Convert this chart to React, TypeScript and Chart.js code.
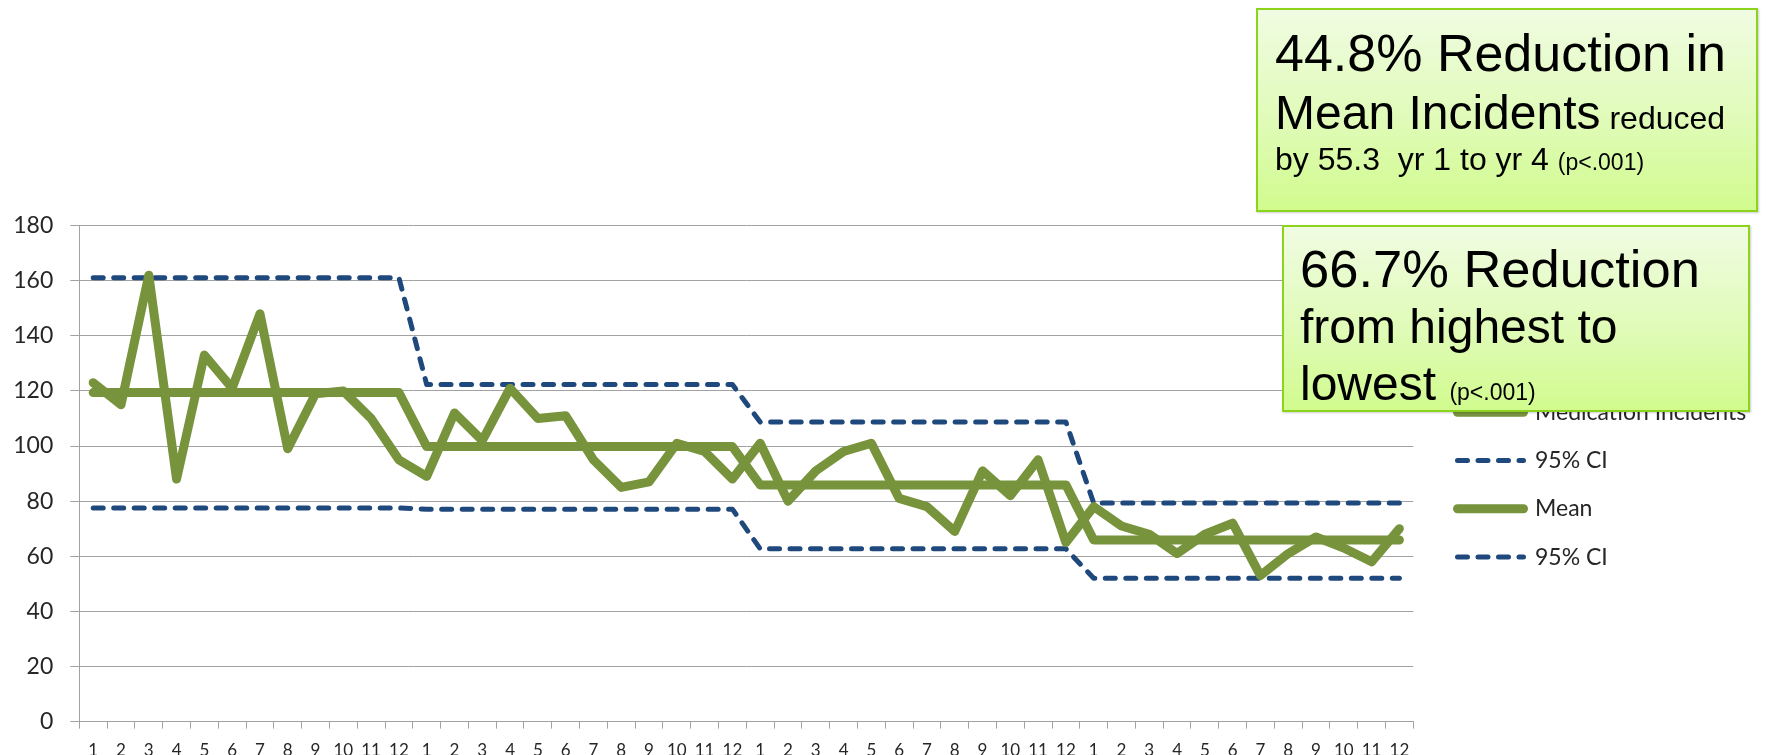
import React, { useEffect, useRef } from 'react';
import { Chart, registerables } from 'chart.js';

Chart.register(...registerables);

const monthLabels = [
  '1', '2', '3', '4', '5', '6', '7', '8', '9', '10', '11', '12',
  '1', '2', '3', '4', '5', '6', '7', '8', '9', '10', '11', '12',
  '1', '2', '3', '4', '5', '6', '7', '8', '9', '10', '11', '12',
  '1', '2', '3', '4', '5', '6', '7', '8', '9', '10', '11', '12',
];

const medicationIncidents = [
  123, 115, 162, 88, 133, 121, 148, 99, 119, 120, 110, 95,
  89, 112, 102, 121, 110, 111, 95, 85, 87, 101, 98, 88,
  101, 80, 91, 98, 101, 81, 78, 69, 91, 82, 95, 65,
  78, 71, 68, 61, 68, 72, 53, 61, 67, 63, 58, 70,
];

const upperCI = [
  161.1, 161.1, 161.1, 161.1, 161.1, 161.1, 161.1, 161.1, 161.1, 161.1, 161.1, 161.1,
  122.3, 122.3, 122.3, 122.3, 122.3, 122.3, 122.3, 122.3, 122.3, 122.3, 122.3, 122.3,
  108.7, 108.7, 108.7, 108.7, 108.7, 108.7, 108.7, 108.7, 108.7, 108.7, 108.7, 108.7,
  79.3, 79.3, 79.3, 79.3, 79.3, 79.3, 79.3, 79.3, 79.3, 79.3, 79.3, 79.3,
];

const meanLine = [
  119.4, 119.4, 119.4, 119.4, 119.4, 119.4, 119.4, 119.4, 119.4, 119.4, 119.4, 119.4,
  99.8, 99.8, 99.8, 99.8, 99.8, 99.8, 99.8, 99.8, 99.8, 99.8, 99.8, 99.8,
  85.9, 85.9, 85.9, 85.9, 85.9, 85.9, 85.9, 85.9, 85.9, 85.9, 85.9, 85.9,
  65.9, 65.9, 65.9, 65.9, 65.9, 65.9, 65.9, 65.9, 65.9, 65.9, 65.9, 65.9,
];

const lowerCI = [
  77.5, 77.5, 77.5, 77.5, 77.5, 77.5, 77.5, 77.5, 77.5, 77.5, 77.5, 77.5,
  77.1, 77.1, 77.1, 77.1, 77.1, 77.1, 77.1, 77.1, 77.1, 77.1, 77.1, 77.1,
  62.7, 62.7, 62.7, 62.7, 62.7, 62.7, 62.7, 62.7, 62.7, 62.7, 62.7, 62.7,
  52.0, 52.0, 52.0, 52.0, 52.0, 52.0, 52.0, 52.0, 52.0, 52.0, 52.0, 52.0,
];

const seriesNames = ['Medication Incidents', '95% CI', 'Mean', '95% CI'];

const yMin = 0;
const yMax = 180;
const yStep = 20;

const GREEN = '#77933C';
const BLUE = '#1F497D';
const GRID = '#A2A2A2';
const TEXT = '#262626';
const CHART_FONT = 'Lato, "Open Sans", sans-serif';
const BOX_FONT = '"Liberation Sans", Arial, sans-serif';

const W = 1774;
const H = 755;

const PLOT_LEFT = 79.3;
const PLOT_RIGHT = 1413.3;
const PLOT_TOP = 225.6;
const PLOT_BOTTOM = 721.6;
const LEGEND_PAD = 25.3;
const LEGEND_FONT = 23;
const LEGEND_LINE_X = 1457.5;
const LEGEND_FIRST_Y = 412.2;

const GREEN_WIDTH = 9;
const BLUE_WIDTH = 5;
const BLUE_DASH = [10, 10.5];

function TextLine(props: { left: number; baseline: number; size: number; children: React.ReactNode }) {
  const top = props.baseline - 0.3465 * props.size;
  return (
    <div
      style={{
        position: 'absolute',
        left: props.left,
        top,
        fontFamily: BOX_FONT,
        fontSize: props.size,
        lineHeight: 0,
        whiteSpace: 'pre',
        color: '#000',
      }}
    >
      {props.children}
    </div>
  );
}

const boxStyle = (left: number, top: number, width: number, height: number): React.CSSProperties => ({
  position: 'absolute',
  left,
  top,
  width,
  height,
  boxSizing: 'border-box',
  border: '2px solid #8CD31E',
  background: 'linear-gradient(180deg, #F0FCE2 0%, #E0FBB8 55%, #D1FB8E 100%)',
  boxShadow: '1px 1px 2px rgba(0,0,0,0.2)',
});

export default function App() {
  const canvasRef = useRef<HTMLCanvasElement>(null);

  useEffect(() => {
    const canvas = canvasRef.current;
    if (!canvas) return;

    const legendPlacer = {
      id: 'legendPlacer',
      beforeLayout(chart: any) {
        const lg = chart.legend;
        if (lg && !lg.__patched) {
          const orig = lg.fit.bind(lg);
          lg.fit = function () {
            orig();
            this.width = W - PLOT_RIGHT;
          };
          lg.__patched = true;
        }
      },
      afterLayout(chart: any) {
        const lg = chart.legend;
        if (!lg) return;
        const w = lg.width;
        lg.left = LEGEND_LINE_X - LEGEND_PAD;
        lg.right = lg.left + w;
        lg.top = LEGEND_FIRST_Y - LEGEND_PAD - LEGEND_FONT / 2;
        lg.bottom = H;
        lg.height = lg.bottom - lg.top;
      },
    };

    const lineDataset = (label: string, data: number[], color: string, width: number, dash: number[]) => ({
      label,
      data,
      borderColor: color,
      backgroundColor: color,
      borderWidth: width,
      borderDash: dash,
      pointRadius: 0,
      pointHoverRadius: 0,
      tension: 0,
      borderCapStyle: 'round',
      borderJoinStyle: 'round',
      fill: false,
    });

    const chart = new Chart(canvas, {
      type: 'line',
      data: {
        labels: monthLabels,
        datasets: [
          lineDataset(seriesNames[0], medicationIncidents, GREEN, GREEN_WIDTH, []),
          lineDataset(seriesNames[1], upperCI, BLUE, BLUE_WIDTH, BLUE_DASH),
          lineDataset(seriesNames[2], meanLine, GREEN, GREEN_WIDTH, []),
          lineDataset(seriesNames[3], lowerCI, BLUE, BLUE_WIDTH, BLUE_DASH),
        ],
      },
      options: {
        responsive: false,
        maintainAspectRatio: false,
        animation: false,
        devicePixelRatio: 1,
        layout: { padding: { top: PLOT_TOP, left: 0, right: 0, bottom: 0 } },
        plugins: {
          title: { display: false },
          tooltip: { enabled: false },
          legend: {
            display: true,
            position: 'right',
            align: 'start',
            labels: {
              usePointStyle: true,
              pointStyle: 'line',
              pointStyleWidth: 66,
              padding: LEGEND_PAD,
              color: TEXT,
              font: { family: CHART_FONT, size: LEGEND_FONT },
              generateLabels: (c: any) => {
                const items = (Chart.defaults as any).plugins.legend.labels.generateLabels(c);
                items.forEach((it: any) => {
                  const ds: any = c.data.datasets[it.datasetIndex];
                  it.lineDash = ds.borderDash || [];
                  it.lineWidth = ds.borderWidth;
                  it.lineCap = 'round';
                  it.strokeStyle = ds.borderColor;
                  it.fontColor = TEXT;
                });
                return items;
              },
            },
          },
        },
        scales: {
          x: {
            type: 'category',
            offset: true,
            grid: {
              display: true,
              drawOnChartArea: false,
              drawTicks: true,
              tickLength: 7,
              color: GRID,
              offset: true,
            },
            border: { display: true, color: GRID, width: 1 },
            ticks: {
              autoSkip: false,
              maxRotation: 0,
              minRotation: 0,
              padding: 11.5,
              color: TEXT,
              font: { family: CHART_FONT, size: 17 },
            },
            afterFit: (scale: any) => {
              scale.height = H - PLOT_BOTTOM;
            },
          },
          y: {
            type: 'linear',
            min: yMin,
            max: yMax,
            grid: {
              display: true,
              drawTicks: true,
              tickLength: 9,
              color: GRID,
              lineWidth: 1,
            },
            border: { display: true, color: GRID, width: 1 },
            ticks: {
              stepSize: yStep,
              padding: 17,
              color: TEXT,
              font: { family: CHART_FONT, size: 23 },
            },
            afterFit: (scale: any) => {
              scale.width = PLOT_LEFT;
            },
          },
        },
      },
      plugins: [legendPlacer],
    } as any);

    return () => {
      chart.destroy();
    };
  }, []);

  return (
    <div style={{ position: 'absolute', left: 0, top: 0, width: W, height: H, background: '#fff', overflow: 'hidden' }}>
      <canvas ref={canvasRef} width={W} height={H} style={{ position: 'absolute', left: 0, top: 0, width: W, height: H }} />
      <div style={boxStyle(1256, 8.3, 502, 203.5)} />
      <div style={boxStyle(1282, 225, 467.5, 186.7)} />
      <TextLine left={1275} baseline={70.7} size={52}>44.8% Reduction in</TextLine>
      <TextLine left={1275} baseline={129.3} size={48}>
        Mean Incidents<span style={{ fontSize: 32 }}> reduced</span>
      </TextLine>
      <TextLine left={1275} baseline={170} size={32}>
        by 55.3  yr 1 to yr 4 <span style={{ fontSize: 23 }}>(p&lt;.001)</span>
      </TextLine>
      <TextLine left={1300} baseline={286.7} size={52.5}>66.7% Reduction</TextLine>
      <TextLine left={1300} baseline={343.3} size={48}>from highest to</TextLine>
      <TextLine left={1300} baseline={400.5} size={48}>
        lowest <span style={{ fontSize: 23 }}>(p&lt;.001)</span>
      </TextLine>
    </div>
  );
}
